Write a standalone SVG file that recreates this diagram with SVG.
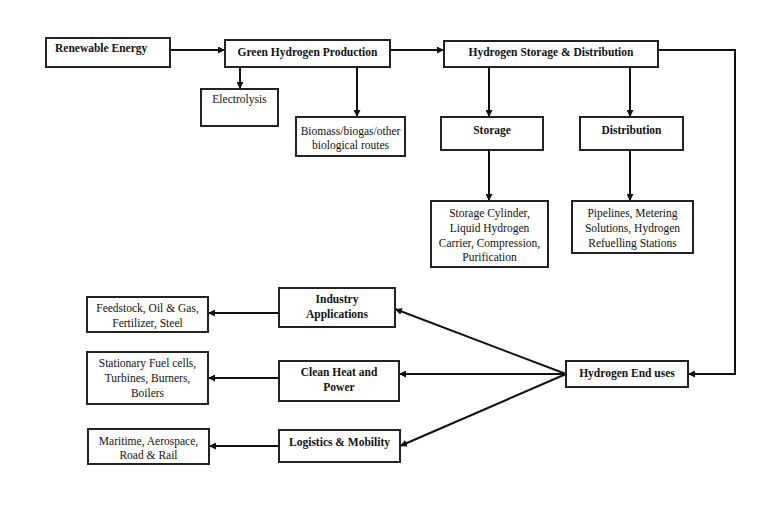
<svg xmlns="http://www.w3.org/2000/svg" width="773" height="509" viewBox="0 0 773 509">
<defs>
<marker id="ah" viewBox="0 0 10 10" refX="10" refY="5" markerWidth="7" markerHeight="7" markerUnits="userSpaceOnUse" orient="auto">
<path d="M0,0 L10,5 L0,10 z" fill="#111"/>
</marker>
<style>
rect{fill:#fff;stroke:#222;stroke-width:2}
text{font-size:11.5px;fill:#111;text-anchor:middle}
.b{font-weight:bold}
.c line,.c polyline{stroke:#111;stroke-width:2;fill:none}
.a{marker-end:url(#ah)}
</style>
</defs>
<rect x="0" y="0" width="773" height="509" style="fill:#fff;stroke:none"/>
<g font-family="Liberation Serif, Times New Roman, serif">
<g class="c" id="connectors">
<line class="a" x1="170" y1="50" x2="225" y2="50"/>
<line class="a" x1="240" y1="67" x2="240" y2="89"/>
<line class="a" x1="357" y1="67" x2="357" y2="117"/>
<line class="a" x1="390" y1="50" x2="444" y2="50"/>
<line class="a" x1="489" y1="67" x2="489" y2="117"/>
<line class="a" x1="630" y1="67" x2="630" y2="117"/>
<line class="a" x1="489" y1="150" x2="489" y2="201"/>
<line class="a" x1="630" y1="150" x2="630" y2="201"/>
<polyline class="a" points="658,50 735,50 735,374 688,374"/>
<line class="a" x1="566" y1="374" x2="395" y2="309"/>
<line class="a" x1="566" y1="374" x2="399" y2="374"/>
<line class="a" x1="566" y1="374" x2="400" y2="446"/>
<line class="a" x1="279" y1="313" x2="208" y2="313"/>
<line class="a" x1="279" y1="378" x2="208" y2="378"/>
<line class="a" x1="279" y1="446" x2="209" y2="446"/>
</g>
<g id="renewable"><rect x="46" y="38" width="124" height="29"/><text class="b" x="55" y="52" style="text-anchor:start">Renewable Energy</text></g>
<g id="green"><rect x="225" y="40" width="165" height="27"/><text class="b" x="307.5" y="56">Green Hydrogen Production</text></g>
<g id="electrolysis"><rect x="201" y="89" width="77" height="37"/><text x="239.5" y="103">Electrolysis</text></g>
<g id="biomass"><rect x="296" y="117" width="109" height="39"/><text x="350.5" y="135">Biomass/biogas/other</text><text x="350.5" y="149">biological routes</text></g>
<g id="hsd"><rect x="444" y="41" width="214" height="26"/><text class="b" x="551" y="56">Hydrogen Storage &amp; Distribution</text></g>
<g id="storage"><rect x="441" y="117" width="102" height="33"/><text class="b" x="492" y="134">Storage</text></g>
<g id="distribution"><rect x="580" y="117" width="103" height="33"/><text class="b" x="631.5" y="134">Distribution</text></g>
<g id="storage-detail"><rect x="431" y="201" width="117" height="66"/><text x="489.5" y="217">Storage Cylinder,</text><text x="489.5" y="232">Liquid Hydrogen</text><text x="489.5" y="247">Carrier, Compression,</text><text x="489.5" y="261">Purification</text></g>
<g id="distribution-detail"><rect x="572" y="201" width="121" height="52"/><text x="632.5" y="217">Pipelines, Metering</text><text x="632.5" y="232">Solutions, Hydrogen</text><text x="632.5" y="247">Refuelling Stations</text></g>
<g id="enduses"><rect x="566" y="361" width="122" height="26"/><text class="b" x="627" y="377">Hydrogen End uses</text></g>
<g id="industry"><rect x="279" y="288" width="116" height="39"/><text class="b" x="337" y="303">Industry</text><text class="b" x="337" y="318">Applications</text></g>
<g id="feedstock"><rect x="87" y="297" width="121" height="35"/><text x="147.5" y="312">Feedstock, Oil &amp; Gas,</text><text x="147.5" y="327">Fertilizer, Steel</text></g>
<g id="cleanheat"><rect x="279" y="361" width="120" height="40"/><text class="b" x="339" y="376">Clean Heat and</text><text class="b" x="339" y="391">Power</text></g>
<g id="stationary"><rect x="87" y="352" width="121" height="52"/><text x="147.5" y="367">Stationary Fuel cells,</text><text x="147.5" y="382">Turbines, Burners,</text><text x="147.5" y="397">Boilers</text></g>
<g id="logistics"><rect x="279" y="430" width="121" height="32"/><text class="b" x="339.5" y="446">Logistics &amp; Mobility</text></g>
<g id="maritime"><rect x="88" y="429" width="121" height="35"/><text x="148.5" y="445">Maritime, Aerospace,</text><text x="148.5" y="459">Road &amp; Rail</text></g>
</g>
</svg>
